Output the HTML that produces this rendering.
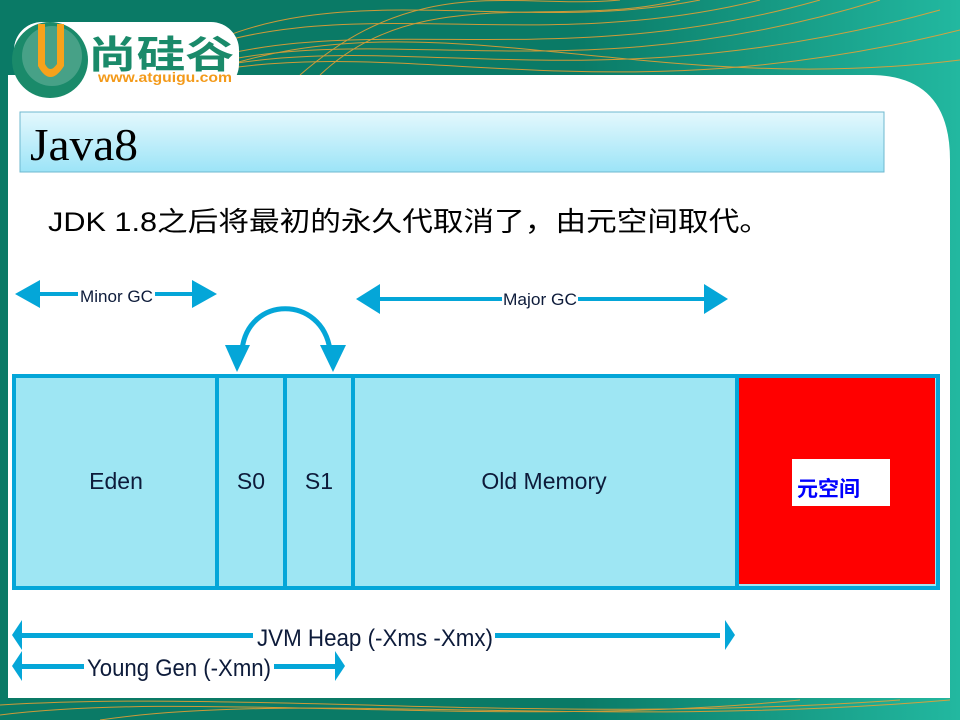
<!DOCTYPE html>
<html><head><meta charset="utf-8"><style>
html,body{margin:0;padding:0;width:960px;height:720px;overflow:hidden;}
body{font-family:"Liberation Sans","Noto Sans CJK SC",sans-serif;}
</style></head><body>
<svg width="960" height="720" viewBox="0 0 960 720" xmlns="http://www.w3.org/2000/svg">
<defs>
<linearGradient id="bg" x1="0" y1="0" x2="1" y2="0">
<stop offset="0" stop-color="#0a7a66"/><stop offset="0.6" stop-color="#0a7a66"/><stop offset="1" stop-color="#22b8a0"/></linearGradient>
<linearGradient id="tb" x1="0" y1="0" x2="0" y2="1">
<stop offset="0" stop-color="#e4f8fd"/><stop offset="1" stop-color="#9ce4f7"/></linearGradient>
</defs>
<rect width="960" height="720" fill="url(#bg)"/>
<g stroke="#f0a030" stroke-width="1" fill="none" opacity="0.85">
<path d="M150 80 C 300 -40, 500 40, 700 0"/>
<path d="M150 70 C 320 -20, 520 60, 760 0"/>
<path d="M160 75 C 340 0, 540 80, 820 0"/>
<path d="M170 75 C 360 10, 560 100, 880 0"/>
<path d="M180 75 C 380 20, 580 110, 940 10"/>
<path d="M190 75 C 400 30, 600 120, 960 30"/>
<path d="M200 75 C 420 -10, 640 100, 960 60"/>
<path d="M300 75 C 420 -30, 520 10, 620 0"/>
<path d="M320 75 C 420 -20, 560 30, 680 0"/>
<path d="M0 715 C 200 690, 500 730, 800 700"/>
<path d="M0 705 C 250 690, 550 725, 900 700"/>
<path d="M100 720 C 300 690, 600 730, 950 700"/>
</g>
<path d="M8 75 L870 75 Q950 75 950 160 L950 698 L8 698 Z" fill="#fff"/>
<!-- logo -->
<rect x="14" y="22" width="225" height="70" rx="28" fill="#fff"/>
<circle cx="50" cy="60" r="38" fill="#1a8a6a"/>
<circle cx="52" cy="56" r="30" fill="#fff" opacity="0.2"/>
<path d="M38 24 L38 66 Q50 88 64 66 L64 24 L57 24 L57 64 Q50 74 45 64 L45 24 Z" fill="#f7a21b"/>
<text x="88" y="68" font-size="38" font-weight="bold" fill="#1a8a6a" textLength="146" lengthAdjust="spacingAndGlyphs">尚硅谷</text>
<text x="98" y="82" font-size="14" font-weight="bold" fill="#f39a1a" textLength="134" lengthAdjust="spacingAndGlyphs">www.atguigu.com</text>
<!-- title bar -->
<rect x="20" y="112" width="864" height="60" fill="url(#tb)" stroke="#6fb8cf" stroke-width="1"/>
<text x="30" y="160" font-family="Liberation Serif,serif" font-size="46" fill="#000" textLength="108" lengthAdjust="spacingAndGlyphs">Java8</text>
<text x="48" y="231" font-size="27" fill="#000" textLength="722" lengthAdjust="spacingAndGlyphs">JDK 1.8之后将最初的永久代取消了，由元空间取代。</text>
<!-- diagram -->
<rect x="8" y="272" width="942" height="426" fill="#fff"/>
<g fill="#04a6d8" stroke="none">
<rect x="30" y="292" width="170" height="4"/>
<polygon points="15,294 40,280 40,308"/>
<polygon points="217,294 192,280 192,308"/>
<rect x="370" y="297" width="345" height="4"/>
<polygon points="356,299 380,284 380,314"/>
<polygon points="728,299 704,284 704,314"/>
<rect x="20" y="633" width="700" height="5"/>
<polygon points="12,635 22,620 22,650"/>
<polygon points="735,635 725,620 725,650"/>
<rect x="20" y="664" width="315" height="5"/>
<polygon points="12,666 22,651 22,681"/>
<polygon points="345,666 335,651 335,681"/>
<polygon points="225,345 250,345 237,372"/>
<polygon points="320,345 346,345 333,372"/>
</g>
<path d="M242 350 C 248 295, 322 295, 330 350" fill="none" stroke="#04a6d8" stroke-width="5"/>
<rect x="78" y="287" width="77" height="18" fill="#fff"/>
<text x="80" y="302" font-size="17" fill="#0d1b3a" textLength="73" lengthAdjust="spacingAndGlyphs">Minor GC</text>
<rect x="502" y="290" width="76" height="18" fill="#fff"/>
<text x="503" y="305" font-size="17" fill="#0d1b3a" textLength="74" lengthAdjust="spacingAndGlyphs">Major GC</text>
<!-- heap -->
<rect x="14" y="376" width="924" height="212" fill="#9ee6f3" stroke="#04a6d8" stroke-width="4"/>
<g stroke="#04a6d8" stroke-width="4">
<line x1="217" y1="376" x2="217" y2="588"/>
<line x1="285" y1="376" x2="285" y2="588"/>
<line x1="353" y1="376" x2="353" y2="588"/>
<line x1="737" y1="376" x2="737" y2="588"/>
</g>
<rect x="739" y="378" width="196" height="206" fill="#ff0000"/>
<rect x="792" y="459" width="98" height="47" fill="#fff"/>
<text x="797" y="496" font-size="21" font-weight="bold" fill="#0000ff">元空间</text>
<g font-size="23" fill="#0d1b3a" text-anchor="middle">
<text x="116" y="489">Eden</text>
<text x="251" y="489">S0</text>
<text x="319" y="489">S1</text>
<text x="544" y="489">Old Memory</text>
</g>
<rect x="253" y="622" width="242" height="28" fill="#fff"/>
<text x="375" y="646" font-size="24" fill="#0d1b3a" text-anchor="middle" textLength="236" lengthAdjust="spacingAndGlyphs">JVM Heap (-Xms -Xmx)</text>
<rect x="84" y="653" width="190" height="30" fill="#fff"/>
<text x="179" y="676" font-size="24" fill="#0d1b3a" text-anchor="middle" textLength="184" lengthAdjust="spacingAndGlyphs">Young Gen (-Xmn)</text>
</svg>
</body></html>
